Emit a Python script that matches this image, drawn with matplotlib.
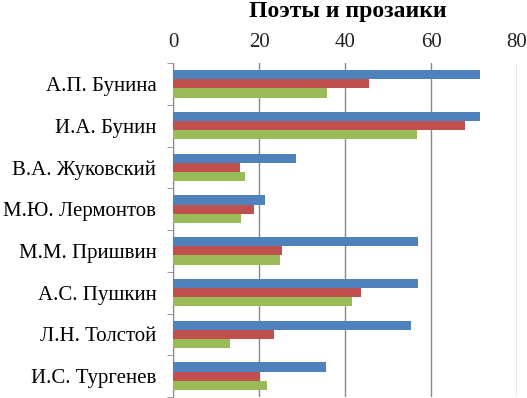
import numpy as np
import matplotlib.pyplot as plt

plt.rcParams['font.family'] = ['Liberation Serif', 'DejaVu Serif']

authors = ['А.П. Бунина', 'И.А. Бунин', 'В.А. Жуковский', 'М.Ю. Лермонтов',
           'М.М. Пришвин', 'А.С. Пушкин', 'Л.Н. Толстой', 'И.С. Тургенев']
s1 = [71.5, 71.5, 28.5, 21.5, 57.0, 57.0, 55.3, 35.6]
s2 = [45.5, 68.0, 15.6, 18.8, 25.3, 43.8, 23.5, 20.3]
s3 = [35.7, 56.8, 16.8, 15.8, 24.8, 41.6, 13.3, 21.8]
colors = ['#4F81BD', '#C0504D', '#9BBB59']

fig = plt.figure(figsize=(5.27, 3.98), dpi=100)
ax = fig.add_axes([173/527, 1/398, (517-173)/527, (397-63)/398])

y = np.arange(len(authors))
h = 0.218
for i, (vals, c) in enumerate(zip([s1, s2, s3], colors)):
    ax.barh(y + (i - 1) * h, vals, height=h, color=c, zorder=3)

ax.set_xlim(0, 80)
ax.set_ylim(len(authors) - 0.5, -0.5)
ax.xaxis.tick_top()
ax.set_xticks([0, 20, 40, 60, 80])
ax.tick_params(axis='x', length=0, labelsize=15, pad=8, colors='#222222')
ax.grid(axis='x', color='#888888', linewidth=1, zorder=0)

# category labels, tick marks on group boundaries
ax.set_yticks(y)
ax.set_yticklabels(authors, fontsize=15)
ax.tick_params(axis='y', length=0, pad=12)
ax.set_yticks(np.arange(len(authors) + 1) - 0.5, minor=True)
ax.tick_params(axis='y', which='minor', length=4, color='#888888', direction='out')

for s in ['top', 'right', 'bottom']:
    ax.spines[s].set_visible(False)
ax.spines['left'].set_color('#888888')

fig.text(348/527, 1 - 11/398, 'Поэты и прозаики', ha='center', va='center',
         fontsize=17, fontweight='bold')

fig.savefig('out.png', dpi=100)
